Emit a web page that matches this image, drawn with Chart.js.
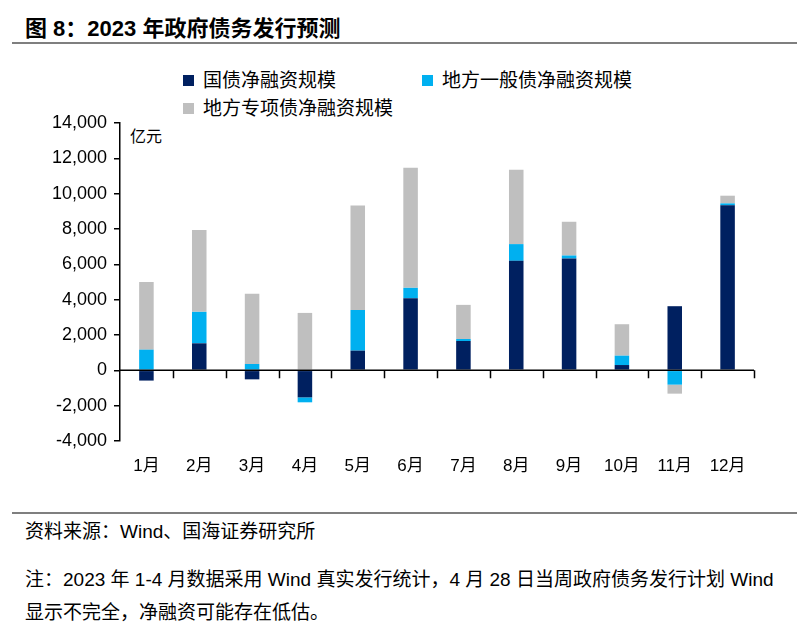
<!DOCTYPE html>
<html lang="zh-CN">
<head>
  <meta charset="UTF-8" />
  <title>2023 年政府债务发行预测</title>
  <script src="https://cdn.jsdelivr.net/npm/chart.js"></script>
  <style>
    * { margin: 0; padding: 0; box-sizing: border-box; }
    body {
      width: 806px; height: 634px; background: #fff; position: relative; overflow: hidden;
      font-family: "Liberation Sans", "Noto Sans CJK SC", sans-serif; color: #000;
    }
    .abs { position: absolute; white-space: nowrap; line-height: 1; }
    .title { left: 25px; top: 18px; font-size: 22px; font-weight: bold; }
    .rule { position: absolute; left: 12px; width: 785px; height: 2px; background: #7f7f7f; }
    .legend-item { position: absolute; font-size: 19px; line-height: 1; white-space: nowrap; }
    .legend-item i { display: inline-block; width: 11px; height: 11px; margin-right: 9px; vertical-align: 1px; }
    .unit { left: 130px; top: 129px; font-size: 16px; }
    .src { left: 25px; font-size: 19px; }
    #wrap { position: absolute; left: 0; top: 100px; width: 806px; height: 400px; }
  </style>
</head>
<body>
  <div class="abs title">图 8：2023 年政府债务发行预测</div>
  <div class="rule" style="top:42px"></div>

  <div id="legend"></div>
  <div class="abs unit">亿元</div>

  <div id="wrap"><canvas id="chart" width="806" height="400"></canvas></div>

  <div class="rule" style="top:512px"></div>
  <div class="abs src" style="top:522px">资料来源：Wind、国海证券研究所</div>
  <div class="abs src" style="top:570px">注：2023 年 1-4 月数据采用 Wind 真实发行统计，4 月 28 日当周政府债务发行计划 Wind</div>
  <div class="abs src" style="top:603px">显示不完全，净融资可能存在低估。</div>

  <script>
    const months = ['1月', '2月', '3月', '4月', '5月', '6月', '7月', '8月', '9月', '10月', '11月', '12月'];
    const guozhai = [-580, 1530, -510, -1530, 1115, 4080, 1660, 6200, 6330, 300, 3630, 9340];
    const yiban = [1170, 1780, 360, -280, 2300, 590, 115, 945, 170, 530, -810, 110];
    const zhuanxiang = [3830, 4630, 3970, 3250, 5910, 6800, 1930, 4215, 1910, 1780, -510, 435];
    const seriesNames = ['国债净融资规模', '地方一般债净融资规模', '地方专项债净融资规模'];
    const seriesColors = ['#002060', '#00b0f0', '#bfbfbf'];

    // legend spots, same order as the series
    const legendPos = [[183, 71], [422, 71], [183, 99]];
    const legend = document.getElementById('legend');
    seriesNames.forEach((name, i) => {
      const d = document.createElement('div');
      d.className = 'legend-item';
      d.style.left = legendPos[i][0] + 'px';
      d.style.top = legendPos[i][1] + 'px';
      d.innerHTML = '<i style="background:' + seriesColors[i] + '"></i>' + name;
      legend.appendChild(d);
    });

    // little ticks hanging under the zero line at category edges
    const edgeTicks = {
      id: 'edgeTicks',
      afterDatasetsDraw(chart) {
        const x = chart.scales.x, y = chart.scales.y;
        const y0 = y.getPixelForValue(0);
        const step = x.width / months.length;
        const ctx = chart.ctx;
        ctx.save();
        ctx.strokeStyle = '#000';
        ctx.lineWidth = 1.5;
        ctx.beginPath();
        ctx.moveTo(x.left, y0);
        ctx.lineTo(x.right, y0);
        for (let i = 1; i <= months.length; i++) {
          const px = Math.round(x.left + i * step) + 0.5;
          ctx.moveTo(px, y0);
          ctx.lineTo(px, y0 + 8);
        }
        ctx.stroke();
        ctx.restore();
      }
    };

    const data = [guozhai, yiban, zhuanxiang];
    new Chart(document.getElementById('chart'), {
      type: 'bar',
      data: {
        labels: months,
        datasets: data.map((vals, i) => ({
          label: seriesNames[i],
          data: vals,
          backgroundColor: seriesColors[i],
          barPercentage: 1,
          categoryPercentage: 0.275
        }))
      },
      options: {
        responsive: false,
        animation: false,
        layout: { padding: { top: 23, right: 52, left: 0, bottom: 0 } },
        plugins: { legend: { display: false }, tooltip: { enabled: false } },
        scales: {
          x: {
            stacked: true,
            grid: { display: false, drawTicks: false },
            border: { display: false },
            ticks: { color: '#000', font: { size: 17, family: '"Liberation Sans", "Noto Sans CJK SC"' }, padding: 15 },
            afterFit(scale) { scale.height = 59; }
          },
          y: {
            stacked: true,
            min: -4000,
            max: 14000,
            grid: { color: 'transparent', tickColor: '#000', tickLength: 6, lineWidth: 1.5 },
            border: { display: true, color: '#000', width: 1.5 },
            ticks: {
              stepSize: 2000,
              padding: 7,
              color: '#000',
              font: { size: 18, family: '"Liberation Sans"' },
              callback: v => v.toLocaleString('en-US')
            },
            afterFit(scale) { scale.width = 120; }
          }
        }
      },
      plugins: [edgeTicks]
    });
  </script>
</body>
</html>
